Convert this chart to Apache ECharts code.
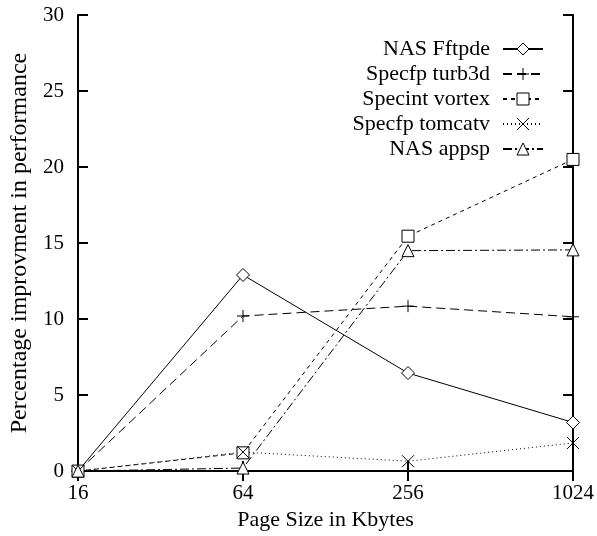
<!DOCTYPE html>
<html><head><meta charset="utf-8">
<script src="https://cdn.jsdelivr.net/npm/echarts@6/dist/echarts.min.js"></script>
<style>html,body{margin:0;padding:0;background:#fff}#c{width:597px;height:536px}</style>
</head><body><div id="c"></div>
<script>
const pageSizes = [16, 64, 256, 1024];
const seriesNames = ['NAS Fftpde', 'Specfp turb3d', 'Specint vortex', 'Specfp tomcatv', 'NAS appsp'];
const fftpde = [0, 12.9, 6.45, 3.2];
const turb3d = [0, 10.2, 10.85, 10.15];
const vortex = [0, 1.2, 15.45, 20.5];
const tomcatv = [0, 1.25, 0.65, 1.85];
const appsp = [0, 0.2, 14.5, 14.55];
const yTicks = [0, 5, 10, 15, 20, 25, 30];

const allValues = [fftpde, turb3d, vortex, tomcatv, appsp];
const symbols = [
  'diamond',
  'path://M0,5 L10,5 M5,0 L5,10',
  'rect',
  'path://M0,0 L10,10 M10,0 L0,10',
  'triangle'
];
const sizes = [13, 12, 12, 12, 12];
const dashes = ['solid', [9, 5], [4, 4], [1, 3], [9, 3, 2, 3]];
const font = 'Liberation Serif';

const chart = echarts.init(document.getElementById('c'));
const series = seriesNames.map((n, i) => ({
  name: n,
  type: 'line',
  data: pageSizes.map((p, j) => [p, allValues[i][j]]),
  symbol: symbols[i],
  symbolSize: sizes[i],
  showAllSymbol: true,
  lineStyle: { color: '#000', width: 1, type: dashes[i] },
  itemStyle: { color: '#fff', borderColor: '#000', borderWidth: 1 },
  emphasis: { disabled: true },
  animation: false,
  z: 5
}));

chart.setOption({
  animation: false,
  grid: { left: 78, right: 24, top: 15, bottom: 64 },
  legend: {
    orient: 'vertical',
    right: 48,
    top: 33,
    align: 'right',
    itemWidth: 40,
    itemHeight: 15,
    itemGap: 3,
    selectedMode: false,
    itemStyle: { color: '#fff', borderColor: '#000', borderWidth: 1 },
    textStyle: { fontFamily: font, fontSize: 22, lineHeight: 22, color: '#000', padding: [0, 8, 0, 0] },
    data: seriesNames
  },
  xAxis: [{
    type: 'log', logBase: 4, min: 16, max: 1024,
    position: 'bottom',
    name: 'Page Size in Kbytes', nameLocation: 'middle', nameGap: 37,
    nameTextStyle: { fontFamily: font, fontSize: 22, color: '#000' },
    axisLine: { lineStyle: { color: '#000', width: 2 } },
    axisTick: { inside: true, length: 10, lineStyle: { color: '#000', width: 2 } },
    axisLabel: { fontFamily: font, fontSize: 21, color: '#000', margin: 12, formatter: v => String(Math.round(v)) },
    splitLine: { show: false }, minorTick: { show: false }
  }, {
    type: 'log', logBase: 4, min: 16, max: 1024,
    position: 'top',
    axisLine: { lineStyle: { color: '#000', width: 2 } },
    axisTick: { inside: true, length: 10, lineStyle: { color: '#000', width: 2 } },
    axisLabel: { show: false },
    splitLine: { show: false }
  }],
  yAxis: [{
    type: 'value', min: 0, max: 30, interval: 5,
    position: 'left',
    name: 'Percentage improvment in performance', nameLocation: 'middle', nameGap: 44,
    nameTextStyle: { fontFamily: font, fontSize: 24, color: '#000' },
    axisLine: { show: true, lineStyle: { color: '#000', width: 2 } },
    axisTick: { show: true, inside: true, length: 10, lineStyle: { color: '#000', width: 2 } },
    axisLabel: { fontFamily: font, fontSize: 21, color: '#000', margin: 14,
      formatter: v => yTicks.includes(v) ? String(v) : '' },
    splitLine: { show: false }
  }, {
    type: 'value', min: 0, max: 30, interval: 5,
    position: 'right',
    axisLine: { show: true, lineStyle: { color: '#000', width: 2 } },
    axisTick: { show: true, inside: true, length: 10, lineStyle: { color: '#000', width: 2 } },
    axisLabel: { show: false },
    splitLine: { show: false }
  }],
  series: series
});
</script>
</body></html>
